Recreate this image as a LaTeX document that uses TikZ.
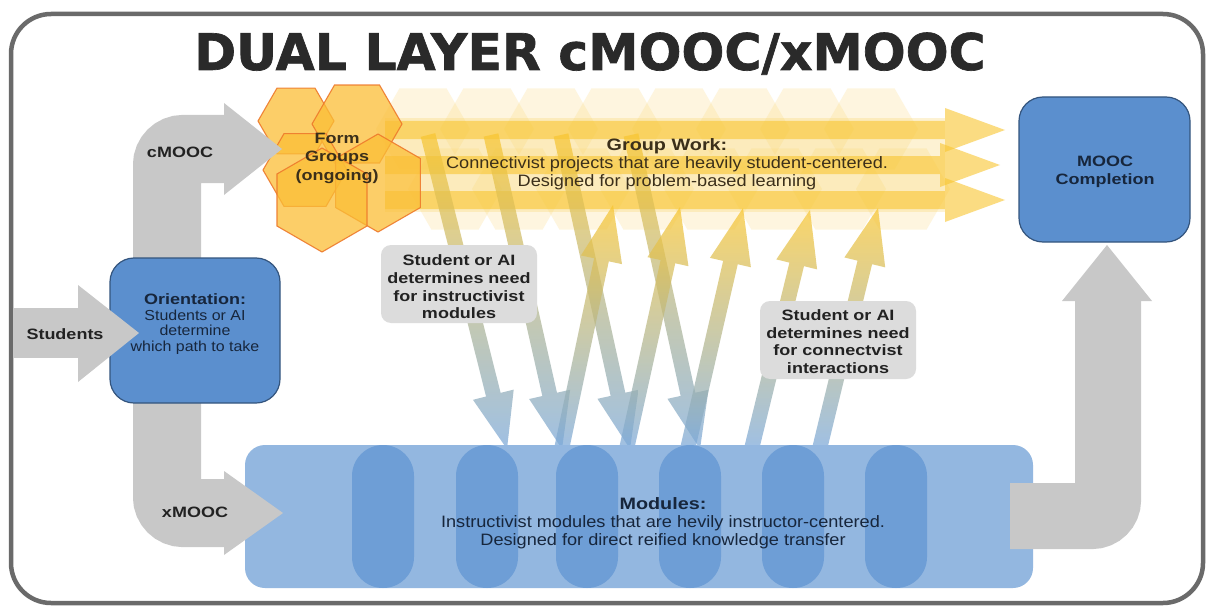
\documentclass[tikz,border=0pt]{standalone}
\usepackage{fontspec}
\setmainfont{Liberation Sans}
\newfontfamily\titlefam{DejaVu Sans}[BoldFeatures={FakeBold=1.3}]
\newfontfamily\boldfam{Liberation Sans}[FakeStretch=1.2]
\newfontfamily\regfam{Liberation Sans}[FakeStretch=1.1]
\usetikzlibrary{calc,shapes.geometric}

\definecolor{arrgray}{HTML}{C8C8C8}
\definecolor{framec}{HTML}{6A6A6A}
\definecolor{titlec}{HTML}{2A2A2A}
\definecolor{boxblue}{HTML}{5B8FCE}
\definecolor{boxedge}{HTML}{34557E}
\definecolor{panelblue}{HTML}{93B7E0}
\definecolor{pillblue}{HTML}{6E9ED6}
\definecolor{ylw}{HTML}{F9C630}
\definecolor{ylwlight}{HTML}{FBD66E}
\definecolor{hexedge}{HTML}{EE7A2C}
\definecolor{hexfill}{HTML}{FBBE36}
\definecolor{lblgray}{HTML}{DCDCDC}
\definecolor{txtc}{HTML}{222222}
\definecolor{navy}{HTML}{17263C}
\definecolor{brownc}{HTML}{3B2F1A}
\definecolor{gradblue}{HTML}{7AA8DA}

% block arrow: #1 style, #2 start, #3 end, #4 half shaft, #5 half head, #6 head length
\newcommand{\blockarr}[6]{%
  \coordinate (bh) at ($(#3)!#6!(#2)$);
  \path[#1] ($(#2)!#4!90:(#3)$) -- ($(bh)!#4!90:(#3)$) -- ($(bh)!#5!90:(#3)$) -- (#3)
    -- ($(bh)!#5!-90:(#3)$) -- ($(bh)!#4!-90:(#3)$) -- ($(#2)!#4!-90:(#3)$) -- cycle;}

\begin{document}
\begin{tikzpicture}[x=1pt,y=-1pt,
  bfnt/.style={font=\boldfam\bfseries\fontsize{15}{18}\selectfont},
  rfnt/.style={font=\regfam\fontsize{16.5}{18}\selectfont},
  faint hex/.style={regular polygon, regular polygon sides=6, minimum size=94pt, inner sep=0pt, fill=ylwlight, fill opacity=0.22},
  grp hex/.style={regular polygon, regular polygon sides=6, inner sep=0pt, fill=hexfill, fill opacity=0.75, draw=hexedge, draw opacity=0.9, line width=1.1pt},
  bigarr/.style={fill=ylw, fill opacity=0.6},
  diagarr/.style={top color=ylw, bottom color=gradblue, fill opacity=0.72},
  graybox/.style={fill=lblgray, rounded corners=10pt, minimum width=156pt, minimum height=78pt, inner sep=0pt},
  grayshaft/.style={draw=arrgray, line width=68pt, rounded corners=16pt},
  bluebox/.style={fill=boxblue, draw=boxedge, line width=1.2pt, rounded corners=24pt, inner sep=0pt},
  pill/.style={fill=pillblue, minimum width=62pt, minimum height=143pt, rounded corners=31pt, inner sep=0pt},
]
\useasboundingbox (0,0) rectangle (1209,607);
\fill[white] (0,0) rectangle (1209,607);

% frame
\draw[framec, line width=4.5pt, rounded corners=40pt] (11,14) rectangle (1203,603);

% title
\node[anchor=base, font=\titlefam\bfseries\fontsize{50.5}{56}\selectfont, text=titlec, inner sep=0pt] (title) at (590,70) {DUAL LAYER cMOOC/xMOOC};

% faint hexagons of the group-work band
\fill[ylwlight, fill opacity=0.3] (385,118) rectangle (945,212);
\foreach \x [count=\i] in {423,487,...,871} {
  \node[faint hex] (fa\i) at (\x,129) {};
  \node[faint hex] (fb\i) at (\x+32,189) {};
}

% big yellow group-work arrows
\coordinate (g1s) at (385,130); \coordinate (g1e) at (1005,130);
\coordinate (g2s) at (385,165); \coordinate (g2e) at (1000,165);
\coordinate (g3s) at (385,200); \coordinate (g3e) at (1005,200);
\blockarr{bigarr}{g1s}{g1e}{9pt}{22pt}{60pt}
\blockarr{bigarr}{g2s}{g2e}{9pt}{22pt}{60pt}
\blockarr{bigarr}{g3s}{g3e}{9pt}{22pt}{60pt}

% form groups hexagons
\node[grp hex, minimum size=76pt] (h1) at (296,121) {};
\node[grp hex, minimum size=90pt] (h2) at (357,124) {};
\node[grp hex, minimum size=84pt] (h3) at (305,170) {};
\node[grp hex, minimum size=98pt, shape border rotate=30] (h4) at (378,183) {};
\node[grp hex, minimum size=104pt, shape border rotate=30] (h5) at (322,200) {};

% diagonal arrows between group work and modules
\coordinate (d1s) at (428,135); \coordinate (d1e) at (507,449);
\coordinate (d2s) at (491,135); \coordinate (d2e) at (562,449);
\coordinate (d3s) at (561,135); \coordinate (d3e) at (630,449);
\coordinate (d4s) at (631,135); \coordinate (d4e) at (700,449);
\coordinate (u1s) at (562,447); \coordinate (u1e) at (613,205);
\coordinate (u2s) at (627,447); \coordinate (u2e) at (680,207);
\coordinate (u3s) at (688,447); \coordinate (u3e) at (743,208);
\coordinate (u4s) at (752,447); \coordinate (u4e) at (810,210);
\coordinate (u5s) at (820,447); \coordinate (u5e) at (878,208);
\foreach \a in {d1,d2,d3,d4,u1,u2,u3,u4,u5} {
  \blockarr{diagarr}{\a s}{\a e}{7.5pt}{21pt}{56pt}
}

% texts in the upper band
\node[rfnt, align=center, text=brownc, inner sep=0pt] (gw) at (667,164)
  {{\boldfam\bfseries Group Work:}\\Connectivist projects that are heavily student-centered.\\Designed for problem-based learning};
\node[bfnt, align=center, text=brownc, inner sep=0pt, font=\boldfam\bfseries\fontsize{15}{18.5}\selectfont] (fg) at (337,158) {Form\\Groups\\(ongoing)};

% decision labels
\node[graybox] (l1) at (459,284) {};
\node[bfnt, align=center, text=txtc, inner sep=0pt, font=\boldfam\bfseries\fontsize{15}{17.7}\selectfont] (l1t) at (459,287) {Student or AI\\determines need\\for instructivist\\modules};
\node[graybox] (l2) at (838,340) {};
\node[bfnt, align=center, text=txtc, inner sep=0pt, font=\boldfam\bfseries\fontsize{15}{17.7}\selectfont] (l2t) at (838,341.5) {Student or AI\\determines need\\for connectvist\\interactions};

% modules panel
\node[fill=panelblue, rounded corners=20pt, minimum width=788pt, minimum height=143pt, inner sep=0pt] (panel) at (639,516.5) {};
\foreach \x [count=\i] in {383,487,587,690,793,896} {
  \node[pill] (pill\i) at (\x,516.5) {};
}
\node[rfnt, align=center, text=navy, inner sep=0pt] (modt) at (663,523)
  {{\boldfam\bfseries Modules:}\\Instructivist modules that are hevily instructor-centered.\\Designed for direct reified knowledge transfer};

% gray path arrows
\coordinate (cm0) at (167,330); \coordinate (cm1) at (167,149); \coordinate (cm2) at (226,149);
\coordinate (xm1) at (167,513); \coordinate (xm2) at (226,513);
\draw[grayshaft] (cm0) -- (cm1) -- (cm2);
\draw[grayshaft] (cm0) -- (xm1) -- (xm2);
\coordinate (rt0) at (1010,516); \coordinate (rt1) at (1108,516); \coordinate (rt2) at (1108,298);
\draw[grayshaft, line width=66pt] (rt0) -- (rt1) -- (rt2);

% orientation and completion boxes
\node[bluebox, minimum width=170pt, minimum height=145pt] (orient) at (195,330.5) {};
\node[text=navy, align=center, inner sep=0pt, font=\regfam\fontsize{14.5}{15.8}\selectfont] (orientt) at (195,324)
  {{\boldfam\bfseries\fontsize{15}{15.8}\selectfont Orientation:}\\Students or AI\\determine\\which path to take};
\node[bluebox, minimum width=171pt, minimum height=145pt] (done) at (1104.5,169.5) {};
\node[bfnt, text=navy, align=center, inner sep=0pt] (donet) at (1105,172) {MOOC\\Completion};

% students arrow
\coordinate (st0) at (13,333); \coordinate (st1) at (82,333);
\draw[draw=arrgray, line width=50pt] (st0) -- (st1);
\fill[arrgray] (78,285) -- (139,333) -- (78,382) -- cycle;
\node[bfnt, text=txtc, inner sep=0pt] (stt) at (65,334) {Students};

% arrow heads of gray paths
\fill[arrgray] (224,103) -- (282,149) -- (224,195) -- cycle;
\fill[arrgray] (224,471) -- (283,513) -- (224,555) -- cycle;
\fill[arrgray] (1062,301) -- (1107,245) -- (1152,301) -- cycle;
\node[bfnt, text=txtc, inner sep=0pt] (cmt) at (180,152) {cMOOC};
\node[bfnt, text=txtc, inner sep=0pt] (xmt) at (195,512) {xMOOC};
\end{tikzpicture}
\end{document}
